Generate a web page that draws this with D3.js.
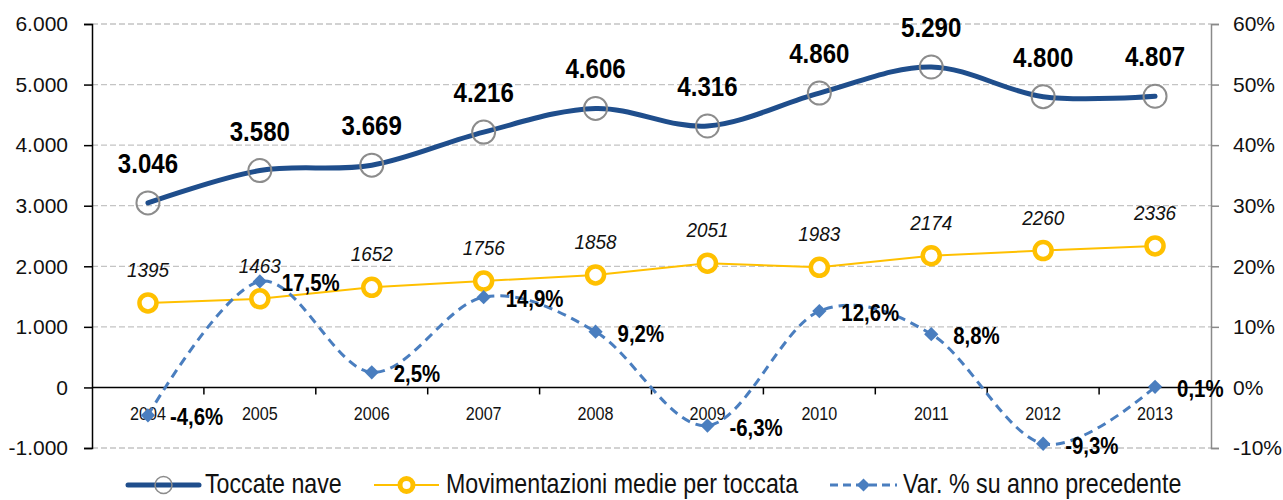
<!DOCTYPE html>
<html>
<head>
<meta charset="utf-8">
<script src="https://cdn.jsdelivr.net/npm/d3@7"></script>
<style>
  body { margin: 0; background: #fff; }
  svg text { font-family: "Liberation Sans", Arial, sans-serif; }
</style>
</head>
<body>
<div class="canvas"></div>
<script>
const years = ["2004","2005","2006","2007","2008","2009","2010","2011","2012","2013"];
const toccate = [3046, 3580, 3669, 4216, 4606, 4316, 4860, 5290, 4800, 4807];
const movimentazioni = [1395, 1463, 1652, 1756, 1858, 2051, 1983, 2174, 2260, 2336];
const variazione = [-4.6, 17.5, 2.5, 14.9, 9.2, -6.3, 12.6, 8.8, -9.3, 0.1];
const leftTicks = [-1000, 0, 1000, 2000, 3000, 4000, 5000, 6000];
const rightTicks = [-10, 0, 10, 20, 30, 40, 50, 60];
const seriesNames = ["Toccate nave", "Movimentazioni medie per toccata", "Var. % su anno precedente"];

const width = 1283, height = 500;
const margin = { top: 24, right: 72, bottom: 52, left: 92 };

const svg = d3.select(".canvas").append("svg")
  .attr("width", width)
  .attr("height", height);

const x = d3.scaleBand()
  .domain(years)
  .range([margin.left, width - margin.right]);

const y = d3.scaleLinear()
  .domain([-1000, 6000])
  .range([height - margin.bottom, margin.top]);

const y2 = d3.scaleLinear()
  .domain([-10, 60])
  .range([height - margin.bottom, margin.top]);

const cx = d => x(d) + x.bandwidth() / 2;
const itFmt = v => d3.format(",")(v).replace(/,/g, ".").replace("\u2212", "-");
const pctFmt = v => d3.format(".1f")(v).replace(".", ",").replace("\u2212", "-") + "%";

// narrow-font look: squeeze text horizontally around its own anchor
function condense(sel, s) {
  sel.each(function() {
    const t = d3.select(this);
    const tx = +t.attr("x") || 0, ty = +t.attr("y") || 0;
    t.attr("x", null).attr("y", null)
      .attr("transform", `translate(${tx},${ty}) scale(${s},1)`);
  });
}

// gridlines
svg.append("g")
  .selectAll("line")
  .data(leftTicks.filter(d => d !== 0))
  .join("line")
    .attr("x1", margin.left)
    .attr("x2", width - margin.right)
    .attr("y1", d => y(d))
    .attr("y2", d => y(d))
    .attr("stroke", "#c4c4c4")
    .attr("stroke-width", 1.3)
    .attr("stroke-dasharray", "6,3");

// left axis
const gl = svg.append("g")
  .attr("transform", `translate(${margin.left},0)`)
  .call(d3.axisLeft(y).tickValues(leftTicks).tickFormat(itFmt).tickSizeOuter(0).tickSize(8).tickPadding(16));
gl.select(".domain").attr("stroke", "#000").attr("stroke-width", 1.5);
gl.selectAll(".tick line").attr("stroke", "#000").attr("stroke-width", 1.5);
gl.selectAll("text").attr("font-size", 21).attr("fill", "#111");

// right axis
const gr = svg.append("g")
  .attr("transform", `translate(${width - margin.right},0)`)
  .call(d3.axisRight(y2).tickValues(rightTicks).tickFormat(d => d + "%").tickSizeOuter(0).tickSize(8).tickPadding(14));
gr.select(".domain").attr("stroke", "#8a8a8a").attr("stroke-width", 1.5);
gr.selectAll(".tick line").attr("stroke", "#8a8a8a").attr("stroke-width", 1.5);
gr.selectAll("text").attr("font-size", 21).attr("fill", "#111");

// category axis at zero
const gx = svg.append("g")
  .attr("transform", `translate(0,${y(0)})`);
gx.append("line")
  .attr("x1", margin.left).attr("x2", width - margin.right)
  .attr("stroke", "#000").attr("stroke-width", 1.5);
gx.selectAll(".tk")
  .data(years.slice(1))
  .join("line")
    .attr("class", "tk")
    .attr("x1", d => x(d)).attr("x2", d => x(d))
    .attr("y1", 0).attr("y2", 7)
    .attr("stroke", "#000").attr("stroke-width", 1.5);
gx.selectAll("text")
  .data(years)
  .join("text")
    .attr("x", d => cx(d))
    .attr("y", 33)
    .attr("text-anchor", "middle")
    .attr("font-size", 19)
    .attr("fill", "#111")
    .text(d => d)
    .call(condense, 0.85);

const curve = d3.curveCatmullRom.alpha(0);

// Toccate nave
svg.append("path")
  .datum(toccate)
  .attr("fill", "none")
  .attr("stroke", "#1f4e8c")
  .attr("stroke-width", 5)
  .attr("stroke-linecap", "round")
  .attr("d", d3.line().x((d, i) => cx(years[i])).y(d => y(d)).curve(curve));
svg.append("g")
  .selectAll("circle")
  .data(toccate)
  .join("circle")
    .attr("cx", (d, i) => cx(years[i]))
    .attr("cy", d => y(d))
    .attr("r", 11.5)
    .attr("fill", "none")
    .attr("stroke", "#8c8c8c")
    .attr("stroke-width", 2);

// Movimentazioni
svg.append("path")
  .datum(movimentazioni)
  .attr("fill", "none")
  .attr("stroke", "#ffc000")
  .attr("stroke-width", 2)
  .attr("d", d3.line().x((d, i) => cx(years[i])).y(d => y(d)));
svg.append("g")
  .selectAll("circle")
  .data(movimentazioni)
  .join("circle")
    .attr("cx", (d, i) => cx(years[i]))
    .attr("cy", d => y(d))
    .attr("r", 8.5)
    .attr("fill", "#fff")
    .attr("stroke", "#ffc000")
    .attr("stroke-width", 4.5);

// Var %
svg.append("path")
  .datum(variazione)
  .attr("fill", "none")
  .attr("stroke", "#4a7ebf")
  .attr("stroke-width", 3)
  .attr("stroke-dasharray", "9,6")
  .attr("d", d3.line().x((d, i) => cx(years[i])).y(d => y2(d)).curve(curve));
const diamond = d3.symbol().type(d3.symbolDiamond2).size(130);
svg.append("g")
  .selectAll("path")
  .data(variazione)
  .join("path")
    .attr("transform", (d, i) => `translate(${cx(years[i])},${y2(d)})`)
    .attr("d", diamond)
    .attr("fill", "#4a7ebf");

// labels
svg.append("g")
  .selectAll("text")
  .data(toccate)
  .join("text")
    .attr("x", (d, i) => cx(years[i]))
    .attr("y", d => y(d) - 30)
    .attr("text-anchor", "middle")
    .attr("font-size", 28)
    .attr("font-weight", "bold")
    .attr("fill", "#000")
    .text(itFmt)
    .call(condense, 0.86);

svg.append("g")
  .selectAll("text")
  .data(movimentazioni)
  .join("text")
    .attr("x", (d, i) => cx(years[i]))
    .attr("y", d => y(d) - 26)
    .attr("text-anchor", "middle")
    .attr("font-size", 21)
    .attr("font-style", "italic")
    .attr("fill", "#111")
    .text(d => d)
    .call(condense, 0.9);

svg.append("g")
  .selectAll("text")
  .data(variazione)
  .join("text")
    .attr("x", (d, i) => cx(years[i]) + 22)
    .attr("y", d => y2(d) + 10)
    .attr("font-size", 24)
    .attr("font-weight", "bold")
    .attr("fill", "#000")
    .text(pctFmt)
    .call(condense, 0.85);

// legend
const legY = 485;
const leg = svg.append("g");
const items = [
  { x0: 128, x1: 199, tx: 205 },
  { x0: 374, x1: 439, tx: 446 },
  { x0: 830, x1: 897, tx: 903 }
];
// Toccate
leg.append("line").attr("x1", items[0].x0).attr("x2", items[0].x1).attr("y1", legY).attr("y2", legY)
  .attr("stroke", "#1f4e8c").attr("stroke-width", 5).attr("stroke-linecap", "round");
leg.append("circle").attr("cx", (items[0].x0 + items[0].x1) / 2).attr("cy", legY).attr("r", 8.5)
  .attr("fill", "none").attr("stroke", "#8c8c8c").attr("stroke-width", 1.5);
// Movimentazioni
leg.append("line").attr("x1", items[1].x0).attr("x2", items[1].x1).attr("y1", legY).attr("y2", legY)
  .attr("stroke", "#ffc000").attr("stroke-width", 2);
leg.append("circle").attr("cx", (items[1].x0 + items[1].x1) / 2).attr("cy", legY).attr("r", 6.5)
  .attr("fill", "#fff").attr("stroke", "#ffc000").attr("stroke-width", 5);
// Var
leg.append("line").attr("x1", items[2].x0).attr("x2", items[2].x1).attr("y1", legY).attr("y2", legY)
  .attr("stroke", "#4a7ebf").attr("stroke-width", 3).attr("stroke-dasharray", "8,5");
leg.append("path").attr("transform", `translate(${(items[2].x0 + items[2].x1) / 2},${legY})`)
  .attr("d", d3.symbol().type(d3.symbolDiamond2).size(110)).attr("fill", "#4a7ebf");
leg.selectAll("text.lt")
  .data(seriesNames)
  .join("text")
    .attr("class", "lt")
    .attr("x", (d, i) => items[i].tx)
    .attr("y", legY + 8)
    .attr("font-size", 27)
    .attr("fill", "#111")
    .text(d => d)
    .call(condense, 0.86);
</script>
</body>
</html>
